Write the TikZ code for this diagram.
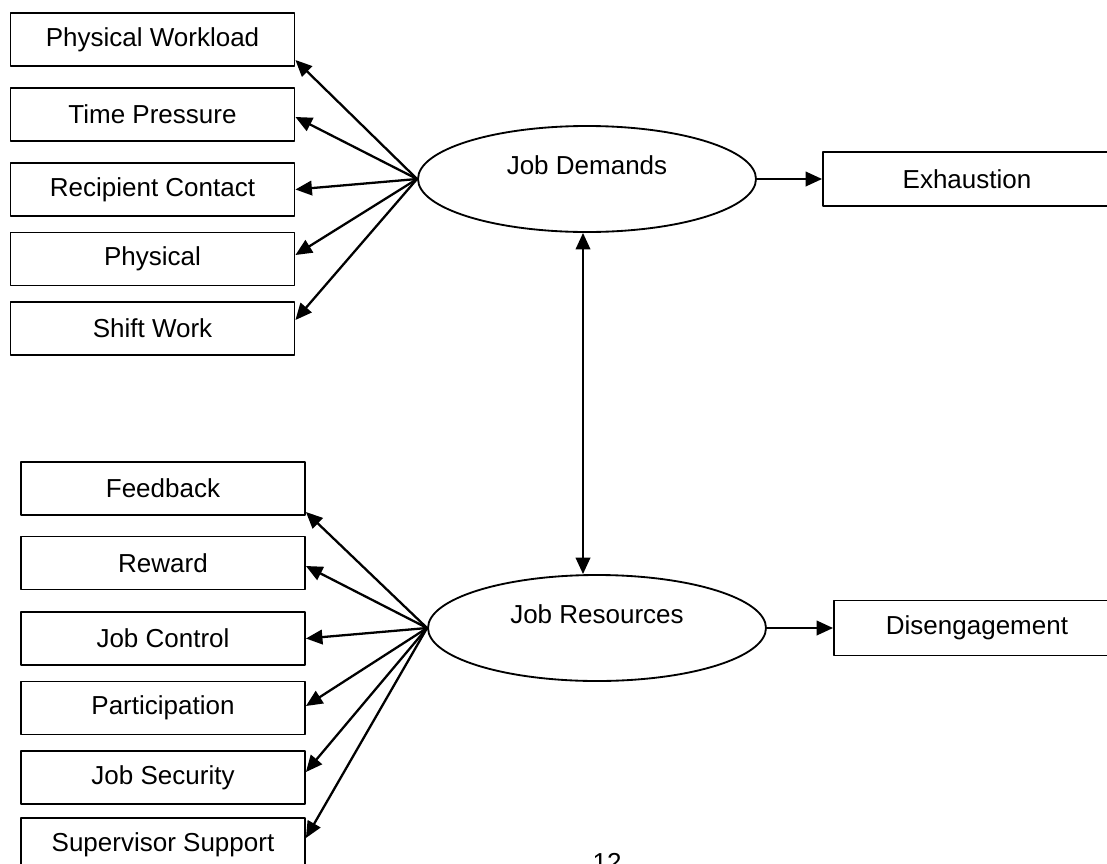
\documentclass[tikz,border=0pt]{standalone}
\usepackage{fontspec}
\setmainfont{Liberation Sans}
\usetikzlibrary{arrows.meta,shapes.geometric}

\begin{document}
\begin{tikzpicture}[line cap=round,line join=round,>={Triangle[length=0.33cm,width=0.29cm]},x=1cm,y=1cm,
    factor/.style={draw,line width=1.05pt,minimum width=5.68cm,minimum height=1.06cm,inner sep=0pt,font=\fontsize{14.8}{17.8}\selectfont},
    latent/.style={draw,ellipse,line width=1.05pt,minimum width=6.76cm,minimum height=2.12cm,inner sep=0pt,text height=0.4cm,text depth=0.6cm,font=\fontsize{14.8}{17.8}\selectfont},
    link/.style={->,line width=1.3pt}]
                \useasboundingbox (0,0) rectangle (22.14,-17.26);
                % demands side
                \node[factor] (pw) at (3.05,-0.79) {Physical Workload};
                \node[factor] (tp) at (3.05,-2.29) {Time Pressure};
                \node[factor] (rc) at (3.05,-3.79) {Recipient Contact};
                \node[factor] (ph) at (3.05,-5.18) {Physical};
                \node[factor] (sw) at (3.05,-6.57) {Shift Work};
                \node[latent] (jd) at (11.74,-3.58) {Job Demands};
                \node[factor,minimum width=5.76cm,minimum height=1.08cm] (ex) at (19.34,-3.58) {Exhaustion};
                % resources side
                \node[factor] (fb) at (3.26,-9.77) {Feedback};
                \node[factor] (rw) at (3.26,-11.26) {Reward};
                \node[factor] (jc) at (3.26,-12.77) {Job Control};
                \node[factor] (pa) at (3.26,-14.16) {Participation};
                \node[factor] (js) at (3.26,-15.55) {Job Security};
                \node[factor] (ss) at (3.26,-16.89) {Supervisor Support};
                \node[latent] (jr) at (11.94,-12.56) {Job Resources};
                \node[factor,minimum width=5.72cm,minimum height=1.1cm] (de) at (19.54,-12.56) {Disengagement};
                \node[font=\fontsize{14.8}{17.8}\selectfont,anchor=base] (pg) at (12.14,-17.42) {12};
                % arrows
                \draw [link] (jd.west) -- ([yshift=-0.41cm]pw.east);
                \draw [link] (jd.west) -- ([yshift=-0.05cm]tp.east);
                \draw [link] (jd.west) -- (rc.east);
                \draw [link] (jd.west) -- ([yshift=0.08cm]ph.east);
                \draw [link] (jd.west) -- ([yshift=0.17cm]sw.east);
                \draw [link] (jd.east) -- (ex.west);
                \draw [link] (jr.west) -- ([yshift=-0.47cm]fb.east);
                \draw [link] (jr.west) -- ([yshift=-0.06cm]rw.east);
                \draw [link] (jr.west) -- (jc.east);
                \draw [link] (jr.west) -- ([yshift=0.04cm]pa.east);
                \draw [link] (jr.west) -- ([yshift=0.11cm]js.east);
                \draw [link] (jr.west) -- ([yshift=0.13cm]ss.east);
                \draw [link] (jr.east) -- (de.west);
                \draw [<->,line width=1.3pt] ([xshift=-0.08cm]jd.south) -- ([xshift=-0.08cm]jd.south |- jr.north);
            \end{tikzpicture}
\end{document}
